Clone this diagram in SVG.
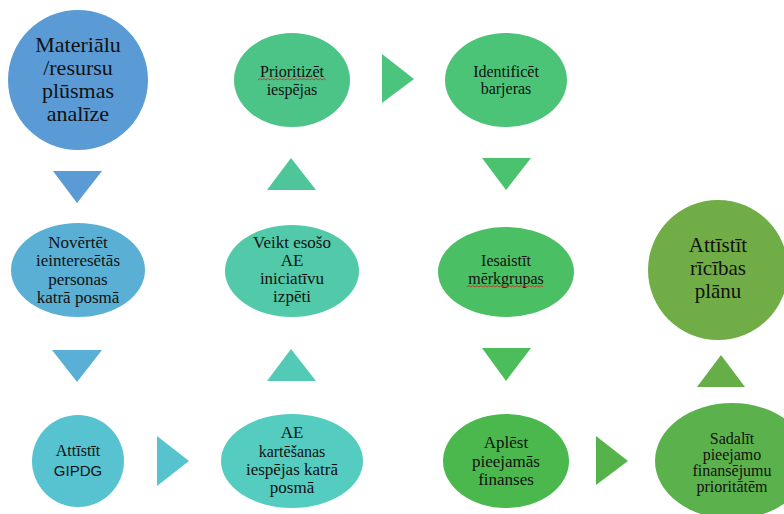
<svg xmlns="http://www.w3.org/2000/svg" width="784" height="514" viewBox="0 0 784 514">
<style>
text{font-family:"Liberation Serif","DejaVu Serif",serif;fill:#111;text-anchor:middle}
.s16{font-size:16px}
.s17{font-size:17px}
.s21{font-size:21px}
.s22{font-size:22px}
.sq{fill:none;stroke:#d22;stroke-width:0.8}
</style>
<rect width="784" height="514" fill="#fff"/>
<g id="connectors">
<polygon points="53,171 102,171 77,203" fill="#5B9BD5"/>
<polygon points="52,350 102,350 77,382" fill="#59AFD6"/>
<polygon points="157,436 157,486 189,461" fill="#56C3CF"/>
<polygon points="267,381 316,381 291,349" fill="#53CAB6"/>
<polygon points="267,190 316,190 291,158" fill="#4EC699"/>
<polygon points="382,54 382,103 414,79" fill="#4BC47E"/>
<polygon points="482,158 531,158 506,190" fill="#4BC26E"/>
<polygon points="482,348 531,348 506,381" fill="#4BBD5A"/>
<polygon points="596,436 596,485 628,461" fill="#56B24B"/>
<polygon points="697,387 745,387 721,355" fill="#65AE48"/>
</g>
<g id="n1">
<circle cx="78" cy="80" r="70" fill="#5B9BD5"/>
<text class="s22" x="78" y="52">Materiālu</text>
<text class="s22" x="78" y="75">/resursu</text>
<text class="s22" x="78" y="98">plūsmas</text>
<text class="s22" x="78" y="121">analīze</text>
</g>
<g id="n2">
<ellipse cx="78" cy="270" rx="67" ry="47" fill="#5AAFD5"/>
<text class="s17" x="78" y="248">Novērtēt</text>
<text class="s17" x="78" y="266">ieinteresētās</text>
<text class="s17" x="78" y="285">personas</text>
<text class="s17" x="78" y="303">katrā posmā</text>
</g>
<g id="n3">
<circle cx="78" cy="461" r="46" fill="#57C3D0"/>
<text class="s16" x="78" y="456">Attīstīt</text>
<text x="78" y="476" style="font-family:'Liberation Sans','DejaVu Sans',sans-serif;font-size:15px">GIPDG</text>
</g>
<g id="n4">
<ellipse cx="292" cy="461" rx="71" ry="47" fill="#55CCC0"/>
<text class="s17" x="292" y="438">AE</text>
<text class="s16" x="292" y="457">kartēšanas</text>
<text class="s17" x="292" y="475">iespējas katrā</text>
<text class="s17" x="292" y="493">posmā</text>
</g>
<g id="n5">
<ellipse cx="292" cy="271" rx="67" ry="46" fill="#52C9A8"/>
<text class="s17" x="292" y="248">Veikt esošo</text>
<text class="s17" x="292" y="266">AE</text>
<text class="s17" x="292" y="284">iniciatīvu</text>
<text class="s17" x="292" y="302">izpēti</text>
</g>
<g id="n6">
<ellipse cx="292" cy="80" rx="58" ry="47" fill="#4CC487"/>
<text class="s16" x="292" y="77">Prioritizēt</text>
<path class="sq" d="M258,80 l2,-1.5 l2,1.5 l2,-1.5 l2,1.5 l2,-1.5 l2,1.5 l2,-1.5 l2,1.5 l2,-1.5 l2,1.5 l2,-1.5 l2,1.5 l2,-1.5 l2,1.5 l2,-1.5 l2,1.5 l2,-1.5 l2,1.5 l2,-1.5 l2,1.5 l2,-1.5 l2,1.5 l2,-1.5 l2,1.5 l2,-1.5 l2,1.5 l2,-1.5 l2,1.5 l2,-1.5 l2,1.5 l2,-1.5 l2,1.5 l2,-1.5 l2,1.5"/>
<text class="s16" x="292" y="95">iespējas</text>
</g>
<g id="n7">
<ellipse cx="506" cy="80" rx="61" ry="47" fill="#4BC477"/>
<text class="s16" x="506" y="77">Identificēt</text>
<text class="s16" x="506" y="94">barjeras</text>
</g>
<g id="n8">
<ellipse cx="506" cy="272" rx="68" ry="45" fill="#4BBF63"/>
<text class="s16" x="506" y="266">Iesaistīt</text>
<text class="s16" x="506" y="284">mērkgrupas</text>
<path class="sq" d="M467,287 l2,-1.5 l2,1.5 l2,-1.5 l2,1.5 l2,-1.5 l2,1.5 l2,-1.5 l2,1.5 l2,-1.5 l2,1.5 l2,-1.5 l2,1.5 l2,-1.5 l2,1.5 l2,-1.5 l2,1.5 l2,-1.5 l2,1.5 l2,-1.5 l2,1.5 l2,-1.5 l2,1.5 l2,-1.5 l2,1.5 l2,-1.5 l2,1.5 l2,-1.5 l2,1.5 l2,-1.5 l2,1.5 l2,-1.5 l2,1.5 l2,-1.5 l2,1.5 l2,-1.5 l2,1.5 l2,-1.5 l2,1.5"/>
</g>
<g id="n9">
<ellipse cx="506" cy="461" rx="63" ry="47" fill="#4AB84C"/>
<text class="s17" x="506" y="448">Aplēst</text>
<text class="s17" x="506" y="467">pieejamās</text>
<text class="s17" x="506" y="485">finanses</text>
</g>
<g id="n10">
<ellipse cx="732" cy="461" rx="77" ry="58" fill="#5BB14C"/>
<text class="s16" x="732" y="444">Sadalīt</text>
<text class="s16" x="732" y="460">pieejamo</text>
<text class="s16" x="732" y="476">finansējumu</text>
<text class="s16" x="732" y="492">prioritātēm</text>
</g>
<g id="n11">
<circle cx="718" cy="270" r="70" fill="#70AD47"/>
<text class="s21" x="718" y="252">Attīstīt</text>
<text class="s21" x="718" y="275">rīcības</text>
<text class="s21" x="718" y="298">plānu</text>
</g>
</svg>
